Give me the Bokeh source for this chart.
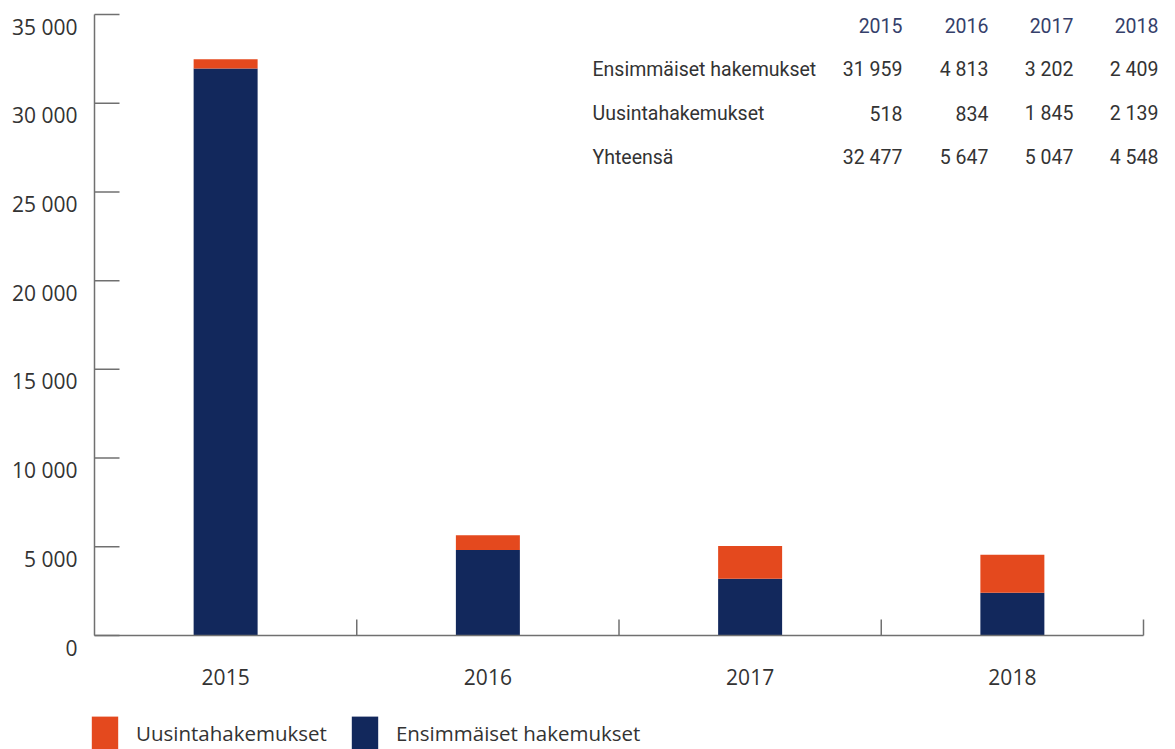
from bokeh.plotting import figure
from bokeh.models import Range1d, Label, Legend, LegendItem, ColumnDataSource
from bokeh.core.properties import value
from bokeh.embed import file_html
from bokeh.resources import INLINE

# ---- data ----
years = ["2015", "2016", "2017", "2018"]
first_apps = [31959, 4813, 3202, 2409]      # Ensimmäiset hakemukset
renewal_apps = [518, 834, 1845, 2139]       # Uusintahakemukset
y_ticks = [0, 5000, 10000, 15000, 20000, 25000, 30000, 35000]
y_tick_labels = ["0", "5 000", "10 000", "15 000", "20 000", "25 000", "30 000", "35 000"]
row_names = ["Ensimmäiset hakemukset", "Uusintahakemukset", "Yhteensä"]
series_names = ["Ensimmäiset hakemukset", "Uusintahakemukset"]

totals = [a + b for a, b in zip(first_apps, renewal_apps)]
n = len(years)
centers = [i + 0.5 for i in range(n)]
boundaries = [i + 1 for i in range(n)]

def fmt(v):
    return f"{v:,}".replace(",", " ")

# ---- layout / styles ----
W, H = 1175, 749
LEFT, RIGHT, TOP, BOTTOM = 94, 32, 14, 114      # plot area margins in px
Y_MAX = y_ticks[-1]
bin_px = (W - LEFT - RIGHT) / n
ky = (H - TOP - BOTTOM) / Y_MAX

def dx(px):
    return px / bin_px

def dy(px):
    return px / ky

NAVY = "#12285C"
ORANGE = "#E4491E"
AXIS = "#707070"
TEXT = "#333333"
HEAD = "#353f6b"
FONT = "Open Sans"
TABLE_FONT = "Roboto"

p = figure(x_range=Range1d(-dx(LEFT), n + dx(RIGHT)),
           y_range=Range1d(-dy(BOTTOM), Y_MAX + dy(TOP)),
           width=W, height=H, output_backend="svg", toolbar_location=None,
           x_axis_type=None, y_axis_type=None,
           min_border=0, min_border_left=0, min_border_right=0,
           min_border_top=0, min_border_bottom=0)
p.outline_line_color = None
p.background_fill_color = "white"
p.border_fill_color = "white"

src = ColumnDataSource(dict(x=centers, year=years, first=first_apps, renewal=renewal_apps))
rs = p.vbar_stack(["first", "renewal"], x="x", width=0.244,
                  color=[NAVY, ORANGE], line_color=None, source=src)

# y axis: line, inner ticks, labels
p.segment(x0=[0], y0=[0], x1=[0], y1=[Y_MAX], line_color=AXIS, line_width=1.5)
p.segment(x0=[0] * len(y_ticks), x1=[dx(25)] * len(y_ticks), y0=y_ticks, y1=y_ticks,
          line_color=AXIS, line_width=1.5)
p.text(x=[-dx(17)] * len(y_ticks), y=y_ticks, text=y_tick_labels,
       text_align="right", text_baseline="middle", y_offset=12,
       text_font=value(FONT), text_font_size="21px", text_color=TEXT)

# x axis: line, category boundary ticks, labels
p.segment(x0=[0], y0=[0], x1=[n], y1=[0], line_color=AXIS, line_width=1.5)
p.segment(x0=boundaries, x1=boundaries, y0=[0] * n, y1=[dy(16)] * n,
          line_color=AXIS, line_width=1.5)
p.text(x=centers, y=[0] * n, text=years, text_align="center", text_baseline="middle",
       y_offset=41, text_font=value(FONT), text_font_size="21px", text_color=TEXT)

# legend (renewal first)
legend = Legend(items=[LegendItem(label=series_names[1], renderers=[rs[1]]),
                       LegendItem(label=series_names[0], renderers=[rs[0]])],
                orientation="horizontal", location=(88, -4),
                glyph_width=33, glyph_height=41, label_standoff=15, spacing=21,
                padding=0, margin=0, border_line_color=None,
                background_fill_alpha=0,
                label_text_font=FONT, label_text_font_size="20.5px",
                label_text_color=TEXT)
p.add_layout(legend)

# table in upper right (screen coordinates, origin bottom-left)
col_right = [902, 988, 1073, 1158]
row_y = [25, 69, 113, 157]
name_left = 592
TFS = "19.5px"

for yr, cx in zip(years, col_right):
    p.add_layout(Label(x=cx, y=H - row_y[0], x_units="screen", y_units="screen",
                       text=yr, text_align="right", text_baseline="middle",
                       text_font=TABLE_FONT, text_font_size=TFS, text_color=HEAD))

rows = [first_apps, renewal_apps, totals]
for name, vals, ry in zip(row_names, rows, row_y[1:]):
    p.add_layout(Label(x=name_left, y=H - ry, x_units="screen", y_units="screen",
                       text=name, text_align="left", text_baseline="middle",
                       text_font=TABLE_FONT, text_font_size=TFS, text_color=TEXT))
    for v, cx in zip(vals, col_right):
        p.add_layout(Label(x=cx, y=H - ry, x_units="screen", y_units="screen",
                           text=fmt(v), text_align="right", text_baseline="middle",
                           text_font=TABLE_FONT, text_font_size=TFS, text_color=TEXT))

open("out.html", "w").write(file_html(p, INLINE))
